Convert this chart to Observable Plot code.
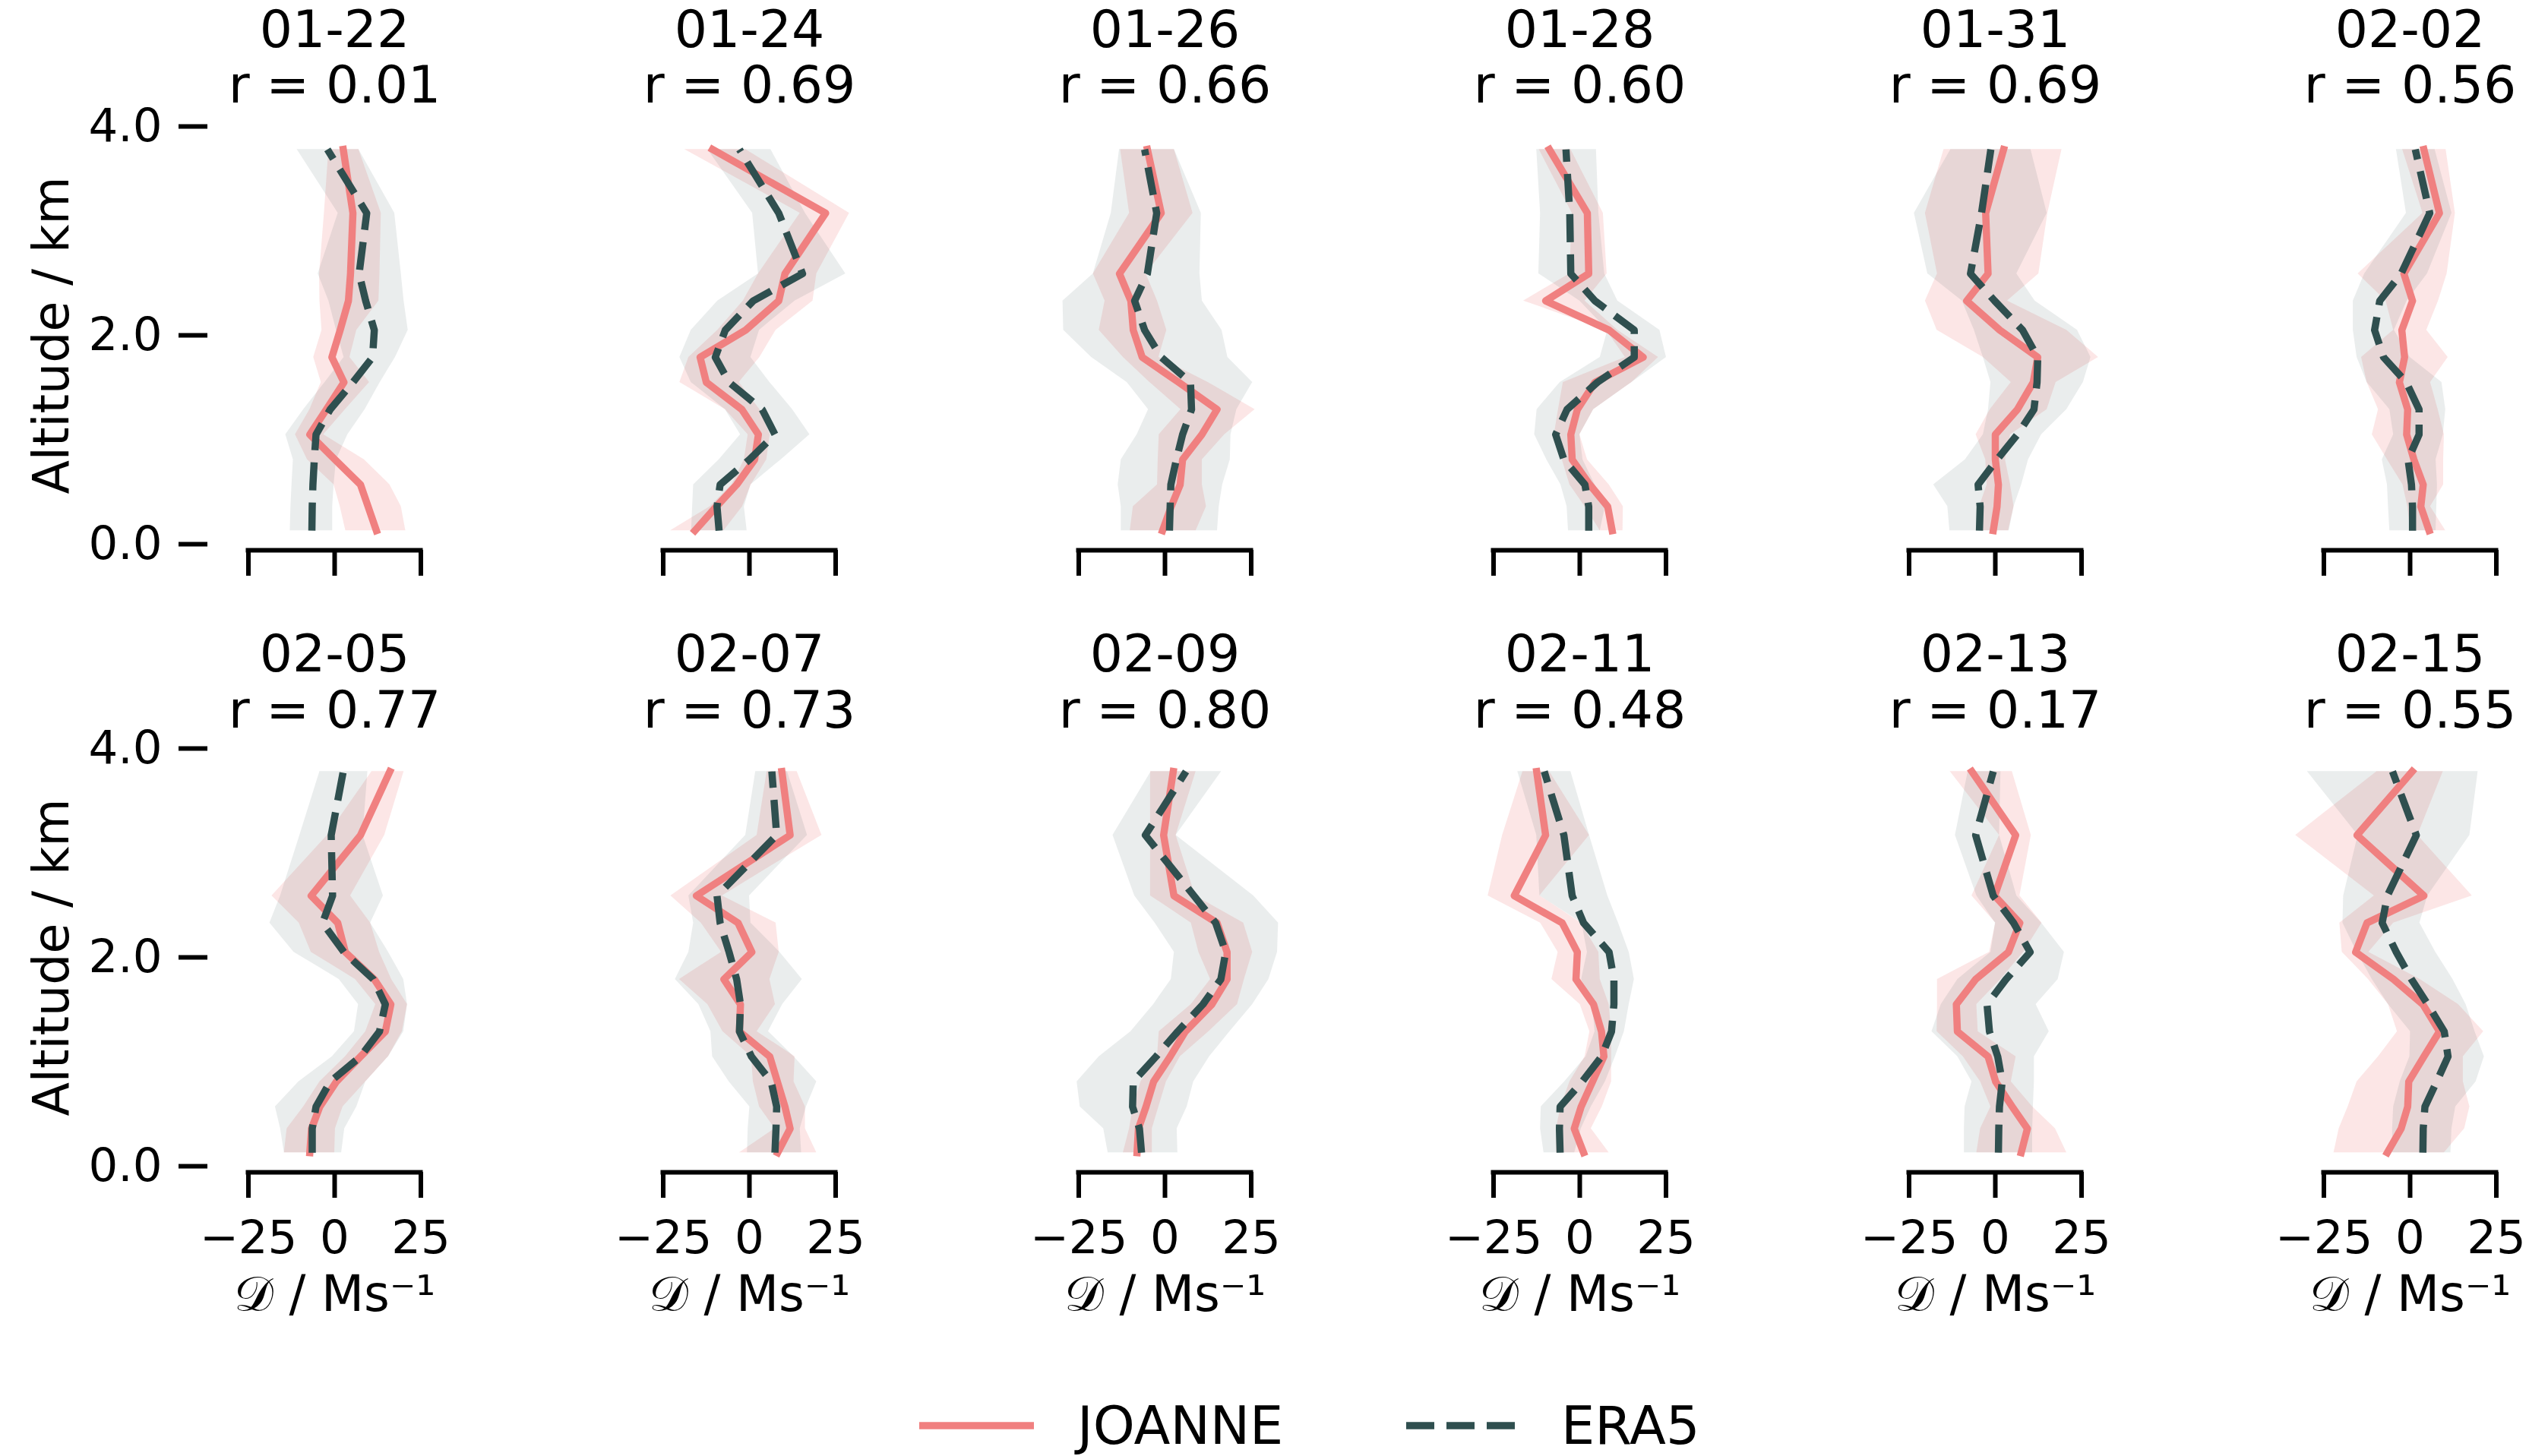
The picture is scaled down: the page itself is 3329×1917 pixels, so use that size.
<!DOCTYPE html>
<html>
<head>
<meta charset="utf-8">
<script src="https://cdn.jsdelivr.net/npm/d3@7"></script>
<script src="https://cdn.jsdelivr.net/npm/@observablehq/plot@0.6"></script>
<style>
html, body { margin:0; padding:0; background:#fff; overflow:hidden; }
#root { position:relative; width:3329px; height:1917px; overflow:hidden; font-family:"DejaVu Sans", sans-serif; background:#fff; }
#root > svg { position:absolute; max-width:none; }
.leg { position:absolute; font-size:70px; line-height:1; white-space:nowrap; color:#000; font-family:"DejaVu Sans", sans-serif; }
</style>
</head>
<body>
<div id="root"></div>
<script>
// ---------------- data ----------------
const altitudeKm = [0.13, 0.36, 0.57, 0.81, 1.05, 1.29, 1.55, 1.79, 2.05, 2.33, 2.59, 3.17, 3.78];
const dates = ["01-22", "01-24", "01-26", "01-28", "01-31", "02-02", "02-05", "02-07", "02-09", "02-11", "02-13", "02-15"];
const rValues = ["0.01", "0.69", "0.66", "0.60", "0.69", "0.56", "0.77", "0.73", "0.80", "0.48", "0.17", "0.55"];

const joanneMean = [
  [12.1, 9.7, 7.5, 0.1, -7.2, -2.4, 2.7, -0.8, 1.6, 4.0, 4.6, 5.3, 2.5],
  [-15.8, -9.6, -3.7, 1.5, 2.6, -2.2, -12.5, -14.3, -1.1, 8.5, 10.3, 22.1, -10.7],
  [-0.7, 1.8, 4.4, 5.1, 10.7, 15.1, 4.0, -6.6, -9.2, -9.9, -13.2, -1.1, -5.1],
  [9.4, 8.1, 2.9, -2.2, -2.6, -0.7, 4.4, 18.4, 8.5, -9.9, 2.6, 2.2, -8.8],
  [-0.6, 0.5, 0.9, 0, 0, 6.4, 11.0, 12.3, 1.3, -8.3, -2.1, -2.8, 2.4],
  [5.5, 3.1, 3.8, 1.1, -1.0, -0.7, -3.1, -1.6, -2.4, 0.7, -1.8, 8.5, 4.0],
  [-7.2, -6.7, -4.3, 0.5, 7.5, 14.7, 16.3, 11.5, 3.1, 0.9, -6.8, 7.5, 16.0],
  [8.2, 11.8, 10.3, 8.1, 5.9, -2.9, -2.6, -7.4, 0.7, -3.3, -15.4, 11.8, 9.4],
  [-8.1, -7.7, -5.5, -3.3, 1.5, 5.9, 13.6, 18.0, 18.0, 15.1, 2.6, -0.4, 2.4],
  [1.1, -1.6, 0.4, 3.7, 7.0, 6.3, 4.0, -1.1, -0.7, -5.1, -19.0, -9.9, -12.5],
  [7.5, 9.3, 4.9, 0.1, -2.1, -11.0, -11.3, -5.7, 3.8, 7.1, -0.2, 5.9, -6.8],
  [-6.6, -2.6, -0.7, -0.4, 4.0, 8.5, 3.7, -4.8, -15.8, -12.5, 4.0, -15.4, 0.6]
];
const joanneLow = [
  [3.2, 1.6, -0.2, -7.9, -11.4, -7.2, -3.9, -6.1, -3.7, -4.3, -4.4, -3.0, -1.7],
  [-22.9, -11.4, -5.1, -1.5, -0.4, -7.0, -20.2, -17.6, -9.2, -1.8, 2.6, 14.7, -18.8],
  [-10.1, -9.2, -2.2, -2.0, -1.7, 4.6, -4.4, -12.1, -19.1, -17.4, -20.8, -10.3, -12.9],
  [5.9, 1.5, -2.9, -5.1, -7.4, -6.2, -4.8, 13.2, 7.7, -16.3, -2.9, -2.2, -11.8],
  [-4.0, -4.6, -2.4, -2.8, -5.6, -1.5, 4.6, -3.5, -16.9, -20.3, -16.8, -20.3, -14.9],
  [0.1, -0.7, -2.1, -6.6, -11.0, -9.2, -12.5, -14.1, -4.8, -7.0, -15.1, 3.7, -2.2],
  [-14.6, -13.8, -9.0, -4.3, 3.1, 9.0, 11.9, 6.0, -6.8, -10.3, -18.2, -2.1, 10.8],
  [-2.9, 7.4, 2.9, 1.1, 0.6, -7.7, -12.1, -20.3, -8.1, -14.0, -22.8, 2.2, 5.1],
  [-12.1, -10.3, -9.2, -7.0, -2.2, -1.7, 7.6, 13.2, 9.8, 7.6, -4.2, -4.2, -4.2],
  [-6.8, -6.8, -5.5, -2.9, 1.5, 2.9, 0.1, -8.1, -6.3, -11.4, -26.6, -22.4, -16.5],
  [-5.4, -4.3, -1.3, -4.3, -9.3, -16.9, -16.8, -16.8, -1.7, 0.1, -6.8, 1.2, -13.1],
  [-22.1, -20.6, -18.0, -15.4, -9.2, -3.7, -6.3, -12.1, -19.7, -20.4, -10.4, -33.2, -9.6]
];
const joanneHigh = [
  [20.6, 19.3, 16.0, 8.6, -3.2, 3.1, 10.1, 4.4, 6.4, 12.8, 13.1, 13.5, 7.0],
  [-7.4, -2.0, 0.5, 5.0, 6.0, 3.0, -3.0, 3.0, 7.7, 18.4, 19.5, 29.0, -1.1],
  [9.0, 12.0, 10.8, 10.8, 17.3, 26.1, 12.5, -1.8, 0.5, -2.2, -5.5, 8.1, 2.7],
  [12.5, 12.6, 8.5, 2.2, 0, 4.0, 15.1, 22.8, 11.0, 1.5, 7.9, 6.8, -2.6],
  [3.8, 5.4, 4.4, 2.9, 4.4, 15.0, 17.6, 29.9, 20.7, 3.5, 12.6, 15.2, 19.3],
  [10.3, 5.9, 9.7, 9.7, 9.9, 8.1, 5.9, 11.0, 4.8, 8.2, 10.7, 13.1, 10.4],
  [0, 0.2, 2.4, 9.0, 15.6, 19.6, 21.1, 16.5, 13.0, 10.4, 4.6, 14.5, 20.1],
  [19.5, 16.2, 16.2, 12.9, 13.2, 2.2, 7.5, 5.9, 8.6, 7.7, -7.9, 21.0, 13.8],
  [-3.7, -3.7, -1.8, 0.4, 4.4, 12.7, 21.0, 23.0, 25.4, 22.8, 8.8, 3.2, 9.0],
  [8.5, 3.3, 6.5, 9.2, 9.2, 9.2, 8.5, 5.9, 5.5, 0.4, -11.6, 2.8, -8.8],
  [20.7, 17.4, 10.8, 4.6, 6.0, -5.0, -5.4, 1.6, 8.2, 13.5, 7.1, 10.4, 4.9],
  [9.9, 15.8, 17.3, 15.4, 15.4, 21.3, 14.0, 2.9, -12.0, -4.8, 18.0, 2.2, 9.6]
];
const era5Mean = [
  [-6.6, -6.5, -6.3, -5.9, -5.4, -1.3, 5.3, 11.0, 11.5, 9.0, 7.1, 9.3, -2.1],
  [-8.8, -9.4, -8.5, 0, 7.4, 3.7, -5.9, -9.9, -7.0, 1.1, 15.4, 8.5, -2.9],
  [1.3, 1.5, 1.7, 3.3, 5.1, 7.7, 7.4, -1.1, -5.9, -8.8, -5.1, -2.4, -5.9],
  [2.6, 2.6, 1.5, -4.6, -7.0, -3.7, 5.1, 15.8, 15.8, 4.4, -2.6, -2.9, -4.0],
  [-4.6, -4.4, -5.0, 0.5, 6.4, 11.2, 12.1, 12.3, 7.9, -0.2, -7.2, -4.0, -1.3],
  [0.7, 0.7, 0.4, -0.6, 2.6, 2.6, -1.1, -7.7, -10.3, -8.8, -2.6, 5.7, 1.5],
  [-6.5, -6.5, -5.4, -1.3, 7.5, 13.0, 14.7, 11.2, 2.7, -3.5, -0.6, -1.0, 2.5],
  [7.4, 7.7, 7.9, 6.3, 0.6, -2.9, -2.6, -3.7, -5.9, -8.5, -9.4, 7.9, 6.5],
  [-6.8, -7.4, -9.4, -9.2, -2.6, 3.7, 11.0, 16.2, 17.6, 14.7, 8.4, -5.7, 6.1],
  [-5.7, -5.9, -5.7, 0.7, 6.3, 9.2, 9.9, 9.9, 8.5, 1.1, -2.2, -4.6, -10.3],
  [0.9, 1.0, 1.2, 2.0, 0.7, -1.7, -2.4, 3.1, 10.1, 5.3, -0.6, -5.7, -0.6],
  [3.7, 3.8, 4.3, 7.7, 11.0, 9.9, 5.1, 0.4, -4.0, -8.1, -6.6, 1.8, -5.1]
];
const era5Low = [
  [-12.9, -12.7, -12.4, -12.0, -14.2, -9.0, -2.8, 2.7, 0.5, -1.7, -4.8, 1.0, -10.9],
  [-16.8, -16.5, -16.2, -8.8, -2.6, -7.0, -16.9, -20.2, -16.9, -9.2, 2.6, 0.9, -12.1],
  [-12.7, -12.7, -13.6, -12.7, -8.1, -4.8, -11.0, -21.3, -29.4, -29.6, -20.8, -15.6, -13.2],
  [-3.3, -3.7, -5.5, -9.6, -13.1, -12.4, -5.7, 5.9, 8.1, 0, -11.9, -11.4, -12.5],
  [-13.2, -13.8, -17.9, -8.7, -3.5, -2.0, -1.3, -3.5, -6.1, -9.6, -19.6, -23.5, -12.9],
  [-5.9, -6.3, -6.6, -8.1, -4.8, -5.9, -12.5, -15.4, -16.5, -16.5, -13.2, -1.1, -4.0],
  [-14.6, -15.7, -17.2, -10.4, -0.7, 5.7, 6.9, 1.3, -11.8, -18.8, -15.7, -10.1, -4.3],
  [-0.6, -0.4, 0.1, -5.9, -10.7, -11.2, -14.7, -21.5, -17.6, -16.2, -17.6, -1.1, 1.8],
  [-16.5, -17.8, -24.6, -25.5, -19.1, -9.9, -3.3, 1.8, 2.7, -2.9, -8.8, -15.1, -4.0],
  [-10.4, -11.4, -11.2, -4.4, 1.8, 4.4, 3.7, 0.5, 2.2, 0.6, -11.6, -12.5, -18.0],
  [-9.0, -9.0, -8.8, -6.8, -10.9, -18.4, -15.7, -10.9, -1.3, 0, -5.4, -11.6, -7.9],
  [-5.1, -5.1, -4.8, -2.9, -0.1, 0.1, -6.3, -11.0, -15.4, -19.5, -19.3, -15.1, -29.8]
];
const era5High = [
  [-0.6, -0.6, -0.2, 0.5, 3.8, 8.8, 13.2, 17.6, 21.3, 20.1, 19.3, 17.4, 7.0],
  [-0.7, -1.5, 0.4, 9.2, 17.5, 12.5, 5.9, 0.4, 2.9, 13.2, 27.9, 16.2, 6.2],
  [15.2, 15.7, 16.7, 18.9, 19.1, 20.8, 25.4, 18.2, 16.5, 10.8, 10.1, 10.5, 2.7],
  [5.9, 7.4, 4.4, 0.9, 0, 4.0, 15.1, 25.1, 23.2, 11.0, 7.2, 5.5, 4.8],
  [4.0, 5.4, 7.6, 9.6, 13.4, 20.7, 25.5, 27.7, 23.8, 11.5, 6.2, 15.0, 10.3],
  [7.5, 7.7, 7.9, 7.5, 9.6, 10.3, 9.2, 0, -4.6, -0.9, 5.0, 12.1, 7.2],
  [2.0, 2.9, 6.4, 9.0, 15.6, 20.0, 21.1, 20.0, 15.6, 10.4, 14.1, 8.2, 9.6],
  [15.1, 14.7, 16.5, 19.5, 12.9, 5.5, 9.6, 15.3, 8.8, 0.4, 0, 16.8, 11.0],
  [3.7, 3.5, 6.4, 8.3, 12.9, 18.8, 25.4, 30.1, 32.6, 32.9, 25.7, 3.2, 16.4],
  [-1.5, 0.4, 3.3, 7.4, 10.3, 12.9, 14.3, 15.8, 14.3, 11.2, 8.1, 2.8, -2.6],
  [10.8, 10.8, 11.0, 11.3, 11.3, 15.6, 11.8, 18.2, 20.0, 13.4, 6.2, 1.2, 1.6],
  [11.8, 12.1, 13.2, 19.1, 21.5, 18.8, 16.2, 12.4, 7.4, 2.8, 5.1, 17.3, 19.7]
];

const xTicks = [-25, 0, 25];
const yTicks = [0, 2, 4];
const seriesNames = ["JOANNE", "ERA5"];
const yLabel = "Altitude / km";
const xLabel = "\u{1D49F} / Ms\u207B\u00B9";

// ---------------- layout & style ----------------
const JOANNE_COLOR = "#F08080";
const ERA5_COLOR = "#2F4F4F";
const DASH = "37,16";
const L = {col0: 439.5, colStep: 546.5, half: 273, unitPx: 4.54, rowStep: 819,
           frameTop: 166, frameBottom: 716, leftExtra: 166, bottomRowHeight: 1098};
const titleDy = [[-126, -53], [-123, -49]];
const xHalf = L.half / L.unitPx;
const fmtTick = d => (d < 0 ? "\u2212" + Math.abs(d) : String(d));

const root = document.getElementById("root");

for (let i = 0; i < dates.length; i++) {
  const col = i % 6, row = Math.floor(i / 6);
  const ml = col === 0 ? L.leftExtra : 0;
  const h = row === 1 ? L.bottomRowHeight : L.rowStep;
  const rows = altitudeKm.map((alt, k) => ({
    alt,
    j: joanneMean[i][k], jlo: joanneLow[i][k], jhi: joanneHigh[i][k],
    e: era5Mean[i][k], elo: era5Low[i][k], ehi: era5High[i][k]
  }));

  const marks = [
    Plot.areaX(rows, {y: "alt", x1: "jlo", x2: "jhi", fill: JOANNE_COLOR, fillOpacity: 0.2}),
    Plot.areaX(rows, {y: "alt", x1: "elo", x2: "ehi", fill: ERA5_COLOR, fillOpacity: 0.1}),
    Plot.lineX(rows, {y: "alt", x: "j", stroke: JOANNE_COLOR, strokeWidth: 9.5,
                      strokeLinecap: "square", strokeLinejoin: "round"}),
    Plot.lineX(rows, {y: "alt", x: "e", stroke: ERA5_COLOR, strokeWidth: 9.5,
                      strokeDasharray: DASH, strokeLinecap: "butt", strokeLinejoin: "round"}),
    Plot.ruleY([0], {x1: xTicks[0], x2: xTicks[xTicks.length - 1], dy: 8,
                     stroke: "black", strokeWidth: 6, strokeLinecap: "square"}),
    Plot.axisX({ticks: xTicks, anchor: "bottom", tickSize: 34, tickPadding: 29, dy: 8,
                strokeWidth: 6, fontSize: 61, label: null,
                tickFormat: row === 1 ? fmtTick : () => ""}),
    Plot.text([dates[i]], {text: d => d, frameAnchor: "top", dy: titleDy[row][0], fontSize: 68, lineAnchor: "middle", fill: "black"}),
    Plot.text(["r = " + rValues[i]], {text: d => d, frameAnchor: "top", dy: titleDy[row][1], fontSize: 68, lineAnchor: "middle", fill: "black"})
  ];
  if (col === 0) {
    marks.push(Plot.axisY({ticks: yTicks, anchor: "left", tickSize: 38, tickPadding: 22, dx: 106,
                           strokeWidth: 6, fontSize: 61, label: null, tickFormat: d => d.toFixed(1)}));
    marks.push(Plot.text([yLabel], {text: d => d, frameAnchor: "left", dx: -98, rotate: -90,
                                    fontSize: 65, textAnchor: "middle", lineAnchor: "middle", fill: "black"}));
  }
  if (row === 1) {
    marks.push(Plot.text([xLabel], {text: d => d, frameAnchor: "bottom", dy: 170, fontSize: 65,
                                    lineAnchor: "middle", fill: "black"}));
  }

  const svg = Plot.plot({
    width: ml + 2 * L.half, height: h,
    marginLeft: ml, marginRight: 0, marginTop: L.frameTop, marginBottom: h - L.frameBottom,
    x: {domain: [-xHalf, xHalf]},
    y: {domain: [0, 4], axis: col === 0 ? undefined : null},
    style: {fontFamily: "DejaVu Sans", background: "transparent", overflow: "visible", color: "black"},
    marks
  });
  const cx = L.col0 + col * L.colStep;
  svg.style.left = (cx - L.half - ml) + "px";
  svg.style.top = (row * L.rowStep) + "px";
  root.appendChild(svg);
}

// ---------------- legend ----------------
const legendY = 1877;
const legendItems = [
  {name: seriesNames[0], color: JOANNE_COLOR, dash: null, x1: 1210, x2: 1361, tx: 1418},
  {name: seriesNames[1], color: ERA5_COLOR, dash: DASH, x1: 1851, x2: 1996, tx: 2055}
];
const NS = "http://www.w3.org/2000/svg";
for (const it of legendItems) {
  const s = document.createElementNS(NS, "svg");
  s.setAttribute("width", it.x2 - it.x1 + 10);
  s.setAttribute("height", 20);
  s.style.position = "absolute";
  s.style.left = (it.x1 - 5) + "px";
  s.style.top = (legendY - 10) + "px";
  const ln = document.createElementNS(NS, "line");
  ln.setAttribute("x1", 5); ln.setAttribute("x2", it.x2 - it.x1 + 5);
  ln.setAttribute("y1", 10); ln.setAttribute("y2", 10);
  ln.setAttribute("stroke", it.color); ln.setAttribute("stroke-width", 9.5);
  if (it.dash) ln.setAttribute("stroke-dasharray", it.dash);
  s.appendChild(ln);
  root.appendChild(s);
  const t = document.createElement("div");
  t.className = "leg";
  t.textContent = it.name;
  t.style.left = it.tx + "px";
  t.style.top = (legendY - 35) + "px";
  root.appendChild(t);
}
</script>
</body>
</html>
